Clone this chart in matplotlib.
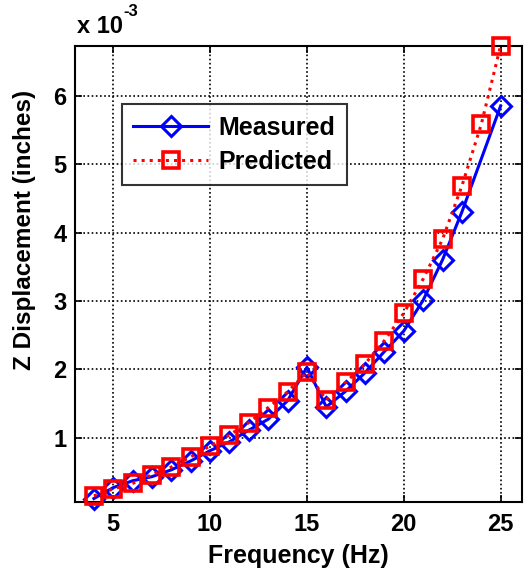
import numpy as np
import matplotlib
matplotlib.use("Agg")
import matplotlib.pyplot as plt
from matplotlib.ticker import MultipleLocator

plt.rcParams['font.family'] = ['Liberation Sans', 'DejaVu Sans']
plt.rcParams['font.weight'] = 'bold'

# displacement values in units of 1e-3 inches
freq_meas = [4, 5, 6, 7, 8, 9, 10, 11, 12, 13, 14, 15, 16, 17, 18, 19, 20, 21, 22, 23, 25]
measured = [0.11, 0.27, 0.37, 0.43, 0.53, 0.66, 0.81, 0.94, 1.11, 1.27, 1.54, 2.03,
            1.45, 1.68, 1.95, 2.26, 2.56, 3.01, 3.60, 4.30, 5.85]
freq_pred = [4, 5, 6, 7, 8, 9, 10, 11, 12, 13, 14, 15, 16, 17, 18, 19, 20, 21, 22, 23, 24, 25]
predicted = [0.15, 0.25, 0.33, 0.46, 0.57, 0.72, 0.88, 1.04, 1.22, 1.44, 1.67, 1.96,
             1.55, 1.81, 2.08, 2.42, 2.82, 3.32, 3.90, 4.68, 5.58, 6.73]

fig = plt.figure(figsize=(5.24, 5.73), dpi=100)
ax = fig.add_axes([0.143, 0.124, 0.853, 0.796])

ax.plot(freq_meas, measured, '-', color='#0000ff', lw=2.2, marker='D', markersize=10,
        markerfacecolor='none', markeredgecolor='#0000ff', markeredgewidth=2.2,
        label='Measured', clip_on=False, zorder=3)
ax.plot(freq_pred, predicted, ':', color='#ff0000', lw=2.2, marker='s', markersize=11,
        markerfacecolor='none', markeredgecolor='#ff0000', markeredgewidth=2.6,
        label='Predicted', clip_on=False, zorder=4)

ax.set_xlim(3.02, 26.1)
ax.set_ylim(0.06, 6.73)
ax.xaxis.set_major_locator(MultipleLocator(5))
ax.yaxis.set_major_locator(MultipleLocator(1))
ax.grid(True, color='black', linestyle=(0, (1, 1.5)), linewidth=1.2)
ax.tick_params(direction='in', top=True, right=True, labelsize=17, length=5, width=1.2)
ax.tick_params(axis='x', pad=8)
ax.tick_params(axis='y', pad=6)
for s in ax.spines.values():
    s.set_linewidth(1.5)

ax.set_xlabel('Frequency (Hz)', fontsize=18, fontweight='bold', labelpad=6)
ax.set_ylabel('Z Displacement (inches)', fontsize=17.5, fontweight='bold')
ax.yaxis.set_label_coords(-0.087, 0.596)
fig.text(0.147, 0.942, 'x 10', fontsize=17, fontweight='bold')
fig.text(0.236, 0.972, '-3', fontsize=12, fontweight='bold')

leg = ax.legend(loc='upper left', bbox_to_anchor=(0.089, 0.888), fontsize=18, frameon=True,
                fancybox=False, edgecolor='black', handlelength=3.0, borderpad=0.45,
                labelspacing=0.4, handletextpad=0.4, borderaxespad=0.3)
leg.get_frame().set_linewidth(1.5)

fig.savefig('out.png', dpi=100)
